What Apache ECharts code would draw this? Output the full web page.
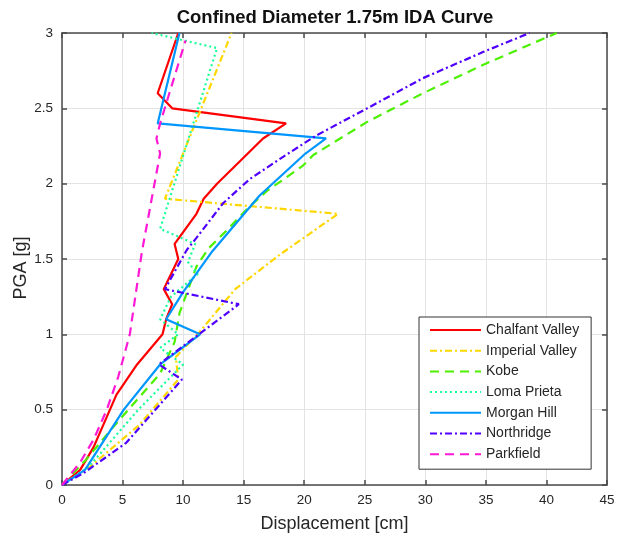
<!DOCTYPE html>
<html>
<head>
<meta charset="utf-8">
<script src="https://cdn.jsdelivr.net/npm/echarts@6/dist/echarts.min.js"></script>
<style>html,body{margin:0;padding:0;background:#fff}#c{width:619px;height:542px}</style>
</head>
<body>
<div id="c"></div>
<script>
// [displacement cm, PGA g]
const chalfantValley = [[0,0],[1.5,0.1],[2.6,0.25],[4.5,0.6],[6.2,0.8],[8.3,1.0],[8.6,1.1],[9.1,1.2],[8.4,1.3],[9.6,1.5],[9.3,1.6],[11.1,1.8],[11.7,1.9],[12.8,2.0],[16.6,2.3],[18.5,2.4],[9.1,2.5],[7.9,2.6],[9.6,3.0]];
const imperialValley = [[0,0],[2.3,0.12],[6.4,0.4],[9.6,0.7],[9.4,0.85],[11.2,1.0],[14.3,1.3],[18.0,1.53],[22.8,1.8],[8.5,1.9],[14.0,3.0]];
const kobe = [[0,0],[2.0,0.17],[4.5,0.41],[8.1,0.74],[9.3,0.95],[9.7,1.14],[11.1,1.45],[12.1,1.57],[13.6,1.69],[15.5,1.85],[16.9,1.95],[19.9,2.12],[20.75,2.19],[25.2,2.41],[29.8,2.6],[34.8,2.79],[40.85,3.0]];
const lomaPrieta = [[0,0],[2.2,0.12],[6.3,0.5],[10.0,0.8],[8.1,0.91],[9.6,1.0],[8.1,1.1],[9.0,1.25],[11.2,1.4],[10.4,1.48],[11.0,1.6],[8.1,1.7],[12.8,2.9],[7.4,3.0]];
const morganHill = [[0,0],[1.9,0.1],[5.1,0.5],[8.1,0.8],[11.4,1.0],[8.6,1.1],[10.0,1.28],[12.4,1.55],[16.3,1.92],[20.1,2.2],[21.8,2.3],[7.9,2.4],[9.7,3.0]];
const northridge = [[0,0],[1.8,0.08],[5.3,0.28],[9.9,0.7],[8.0,0.8],[14.6,1.2],[8.5,1.3],[10.3,1.56],[11.1,1.64],[13.3,1.87],[15.5,2.03],[18.1,2.17],[21.0,2.32],[25.2,2.5],[29.8,2.7],[34.8,2.875],[38.6,3.0]];
const parkfield = [[0,0],[1.5,0.15],[2.6,0.3],[3.7,0.5],[4.65,0.72],[5.6,1.0],[6.6,1.55],[8.1,2.2],[7.8,2.3],[8.1,2.4],[10.2,2.95]];

const seriesNames = ['Chalfant Valley','Imperial Valley','Kobe','Loma Prieta','Morgan Hill','Northridge','Parkfield'];
const seriesData = [chalfantValley, imperialValley, kobe, lomaPrieta, morganHill, northridge, parkfield];
const seriesColors = ['#ff0000','#ffd700','#4cf000','#19ff9a','#0096ff','#5000ff','#ff19d6'];
const seriesDash = ['solid',[7,3,2,3],[9,6],[2,3],'solid',[7,3,2,3],[9,6]];

const chart = echarts.init(document.getElementById('c'));
const axisColor = '#4a4a4a';
const labelColor = '#262626';
const fontFam = 'Liberation Sans, Arial, sans-serif';

const xBase = {type:'value',min:0,max:45,interval:5};
const yBase = {type:'value',min:0,max:3,interval:0.5};

chart.setOption({
  animation:false,
  backgroundColor:'#ffffff',
  title:{
    text:'Confined Diameter 1.75m IDA Curve',
    left:330, top:3, textAlign:'center',
    textStyle:{fontSize:18.5,fontWeight:'bold',color:'#111',fontFamily:fontFam}
  },
  grid:{left:62,right:12,top:33,bottom:57,containLabel:false,outerBoundsMode:'none'},
  legend:{
    orient:'vertical', left:419, top:317,
    padding:[6,12,8,10],
    itemWidth:51, itemHeight:14, itemGap:6.7,
    backgroundColor:'#fff', borderColor:'#333', borderWidth:1,
    itemStyle:{color:'rgba(0,0,0,0)',borderWidth:0,opacity:0},
    textStyle:{fontSize:14,color:labelColor,fontFamily:fontFam},
    data:seriesNames
  },
  xAxis:[
    Object.assign({},xBase,{
      position:'bottom',
      name:'Displacement [cm]', nameLocation:'middle', nameGap:30,
      nameTextStyle:{fontSize:18,color:labelColor,fontFamily:fontFam},
      axisLine:{show:true,onZero:false,lineStyle:{color:axisColor,width:1.5}},
      axisTick:{show:true,inside:true,length:5,lineStyle:{color:axisColor,width:1.5}},
      axisLabel:{fontSize:13.5,color:labelColor,margin:8,fontFamily:fontFam},
      splitLine:{show:true,lineStyle:{color:'#e3e3e3',width:1}}
    }),
    Object.assign({},xBase,{
      position:'top',
      axisLine:{show:true,onZero:false,lineStyle:{color:axisColor,width:1.5}},
      axisTick:{show:true,inside:true,length:5,lineStyle:{color:axisColor,width:1.5}},
      axisLabel:{show:false},
      splitLine:{show:false}
    })
  ],
  yAxis:[
    Object.assign({},yBase,{
      position:'left',
      name:'PGA [g]', nameLocation:'middle', nameGap:32, nameMoveOverlap:false,
      nameTextStyle:{fontSize:18,color:labelColor,fontFamily:fontFam,padding:[0,18,0,0]},
      axisLine:{show:true,onZero:false,lineStyle:{color:axisColor,width:1.5}},
      axisTick:{show:true,inside:true,length:5,lineStyle:{color:axisColor,width:1.5}},
      axisLabel:{fontSize:13.5,color:labelColor,margin:9,fontFamily:fontFam},
      splitLine:{show:true,lineStyle:{color:'#e3e3e3',width:1}}
    }),
    Object.assign({},yBase,{
      position:'right',
      axisLine:{show:true,onZero:false,lineStyle:{color:axisColor,width:1.5}},
      axisTick:{show:true,inside:true,length:5,lineStyle:{color:axisColor,width:1.5}},
      axisLabel:{show:false},
      splitLine:{show:false}
    })
  ],
  series: seriesNames.map((n,i)=>({
    name:n, type:'line', xAxisIndex:0, yAxisIndex:0,
    data:seriesData[i], symbol:'none', showSymbol:false,
    clip:true,
    color:seriesColors[i],
    lineStyle:{color:seriesColors[i],width:2.2,type:seriesDash[i]},
    emphasis:{disabled:true}
  }))
});
</script>
</body>
</html>
